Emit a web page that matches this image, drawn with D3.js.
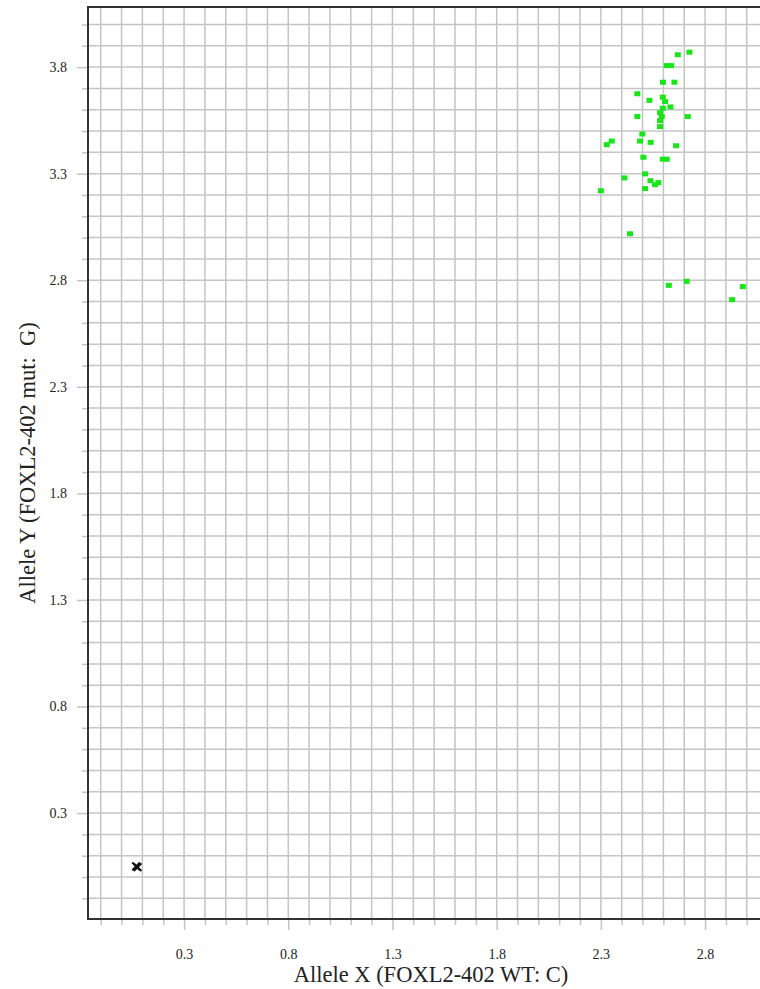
<!DOCTYPE html>
<html>
<head>
<meta charset="utf-8">
<script src="https://cdn.jsdelivr.net/npm/d3@7"></script>
<style>
  body { margin: 0; background: #fff; }
  svg { display: block; }
</style>
</head>
<body>
<div id="chart"></div>
<script>
// Allele discrimination plot, FOXL2-402
const width = 760;
const height = 989;

// mutant cluster (green squares)
const mutX = [2.669, 2.725, 2.616, 2.637, 2.598, 2.653, 2.475, 2.533, 2.597, 2.608,
              2.634, 2.597, 2.584, 2.475, 2.592, 2.717, 2.584, 2.584, 2.499, 2.352,
              2.328, 2.488, 2.539, 2.661, 2.504, 2.597, 2.616, 2.512, 2.413, 2.538,
              2.576, 2.560, 2.512, 2.300, 2.440, 2.626, 2.712, 2.981, 2.930];
const mutY = [3.858, 3.870, 3.807, 3.807, 3.729, 3.729, 3.675, 3.644, 3.659, 3.638,
              3.613, 3.607, 3.586, 3.568, 3.568, 3.568, 3.549, 3.521, 3.486, 3.453,
              3.436, 3.453, 3.447, 3.431, 3.377, 3.368, 3.368, 3.299, 3.280, 3.267,
              3.258, 3.248, 3.230, 3.220, 3.018, 2.776, 2.795, 2.770, 2.709];

// no template controls (black crosses)
const ntcX = [0.070, 0.077];
const ntcY = [0.050, 0.046];

const xTickLabels = ["0.3", "0.8", "1.3", "1.8", "2.3", "2.8"];
const yTickLabels = ["0.3", "0.8", "1.3", "1.8", "2.3", "2.8", "3.3", "3.8"];
const xGridRange = [-1, 31];   // grid lines every 0.1, in tenths
const yGridRange = [-1, 41];

const margin = {left: 88, top: 7, bottom: 919};

const x = d3.scaleLinear()
    .domain([-0.161, 3.10])
    .range([margin.left, margin.left + 3.261 * 208.4]);

const y = d3.scaleLinear()
    .domain([-0.197, 4.082])
    .range([margin.bottom, margin.top]);

const svg = d3.select("#chart")
    .append("svg")
    .attr("width", width)
    .attr("height", height);

const xGrid = d3.range(xGridRange[0], xGridRange[1]).map(i => i / 10);
const yGrid = d3.range(yGridRange[0], yGridRange[1]).map(i => i / 10);
const xMajor = xTickLabels.map(Number);
const yMajor = yTickLabels.map(Number);
const isMajor = (list, v) => list.some(m => Math.abs(m - v) < 1e-6);

// grid
svg.append("g")
    .selectAll("line")
    .data(xGrid)
    .enter()
    .append("line")
    .attr("x1", d => x(d))
    .attr("x2", d => x(d))
    .attr("y1", margin.top)
    .attr("y2", margin.bottom)
    .attr("stroke", "#c4c4c4")
    .attr("stroke-width", 1.5);

svg.append("g")
    .selectAll("line")
    .data(yGrid)
    .enter()
    .append("line")
    .attr("x1", margin.left)
    .attr("x2", width)
    .attr("y1", d => y(d))
    .attr("y2", d => y(d))
    .attr("stroke", "#c4c4c4")
    .attr("stroke-width", 1.5);

// axes
const xAxis = d3.axisBottom(x)
    .tickValues(xGrid)
    .tickSize(6)
    .tickPadding(24)
    .tickFormat(d => isMajor(xMajor, d) ? xTickLabels[xMajor.findIndex(m => Math.abs(m - d) < 1e-6)] : "");

const yAxis = d3.axisLeft(y)
    .tickValues(yGrid)
    .tickSize(6)
    .tickPadding(15)
    .tickFormat(d => isMajor(yMajor, d) ? yTickLabels[yMajor.findIndex(m => Math.abs(m - d) < 1e-6)] : "");

const gx = svg.append("g")
    .attr("transform", `translate(0,${margin.bottom})`)
    .call(xAxis);

const gy = svg.append("g")
    .attr("transform", `translate(${margin.left},0)`)
    .call(yAxis);

[gx, gy].forEach(g => {
    g.attr("font-family", "'Liberation Serif', 'Times New Roman', serif");
    g.select(".domain").remove();
    g.selectAll(".tick line").attr("stroke", "#c4c4c4").attr("stroke-width", 1.5);
    g.selectAll("text")
        .attr("font-family", "'Liberation Serif', 'Times New Roman', serif")
        .attr("font-size", "14px")
        .attr("fill", "#222");
});
gx.selectAll(".tick").filter(d => isMajor(xMajor, d)).select("line").attr("y2", 11);
gy.selectAll(".tick").filter(d => isMajor(yMajor, d)).select("line").attr("x2", -11);

// frame: top, left, bottom
svg.append("path")
    .attr("d", `M${width},${margin.top}H${margin.left}V${margin.bottom}H${width}`)
    .attr("fill", "none")
    .attr("stroke", "#333")
    .attr("stroke-width", 2);

// points
svg.append("g")
    .selectAll("rect")
    .data(mutX.map((d, i) => [d, mutY[i]]))
    .enter()
    .append("rect")
    .attr("x", d => x(d[0]) - 3)
    .attr("y", d => y(d[1]) - 2.5)
    .attr("width", 6)
    .attr("height", 5)
    .attr("fill", "#19e619");

const cross = d3.symbol().type(d3.symbolX).size(40);
svg.append("g")
    .selectAll("path")
    .data(ntcX.map((d, i) => [d, ntcY[i]]))
    .enter()
    .append("path")
    .attr("d", cross)
    .attr("transform", d => `translate(${x(d[0])},${y(d[1])})`)
    .attr("fill", "none")
    .attr("stroke", "#111")
    .attr("stroke-width", 2);

// axis titles
svg.append("text")
    .attr("x", 431)
    .attr("y", 982)
    .attr("text-anchor", "middle")
    .attr("font-family", "'Liberation Serif', 'Times New Roman', serif")
    .attr("font-size", "22.5px")
    .attr("fill", "#222")
    .text("Allele X (FOXL2-402 WT: C)");

svg.append("text")
    .attr("transform", "translate(35,463) rotate(-90)")
    .attr("text-anchor", "middle")
    .attr("font-family", "'Liberation Serif', 'Times New Roman', serif")
    .attr("font-size", "22.5px")
    .attr("fill", "#222")
    .attr("xml:space", "preserve")
    .style("white-space", "pre")
    .text("Allele Y (FOXL2-402 mut:  G)");
</script>
</body>
</html>
